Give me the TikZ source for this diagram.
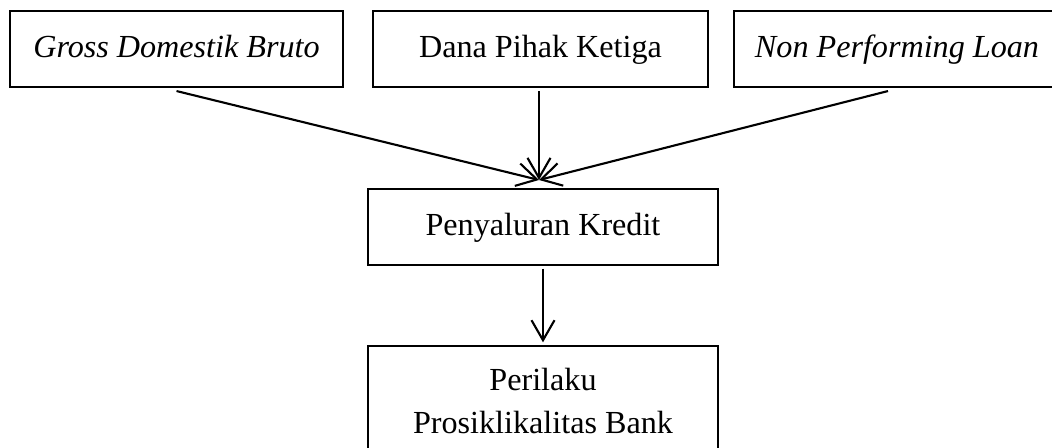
\documentclass[tikz,border=0pt]{standalone}
\usepackage{fontspec}
\setmainfont{Liberation Serif}
\usetikzlibrary{arrows.meta}
\tikzset{
	box/.style={draw,line width=1.2pt,minimum height=1.52cm,inner sep=0pt,align=center,text height=0.5cm,text depth=0.14cm,font=\fontsize{18.3}{25}\selectfont},
	arr/.style={line width=1.2pt,-{Straight Barb[length=0.4cm,width=0.46cm,line width=1.2pt]}}
}
\begin{document}
	\begin{tikzpicture}[x=0.02cm,y=-0.02cm]
		\useasboundingbox (0,0) rectangle (1052,448);
		\clip (0,0) rectangle (1052,448);
		\draw (176.5,49) node (gdb)[box,minimum width=6.66cm]{\textit{Gross Domestik Bruto}};
		\draw (540.5,49) node (dpk)[box,minimum width=6.7cm]{Dana Pihak Ketiga};
		\draw (897,49) node (npl)[box,minimum width=6.52cm]{\textit{Non Performing Loan}};
		\draw (543,227) node (kredit)[box,minimum width=7cm]{Penyaluran Kredit};
		\draw (543,401) node (bank)[box,minimum width=7cm,minimum height=2.2cm,text height=,text depth=]{Perilaku\\Prosiklikalitas Bank};
		\draw (539,180) coordinate (m);
		\draw[arr] (gdb.south)++(0,3) -- (m);
		\draw[arr] (dpk.south)++(-1.5,3) -- (m);
		\draw[arr] (npl.south)++(-9,3) -- (m);
		\draw[arr,shorten <=1.5pt,shorten >=1.5pt] (kredit.south) -- (bank.north);
	\end{tikzpicture}
\end{document}
